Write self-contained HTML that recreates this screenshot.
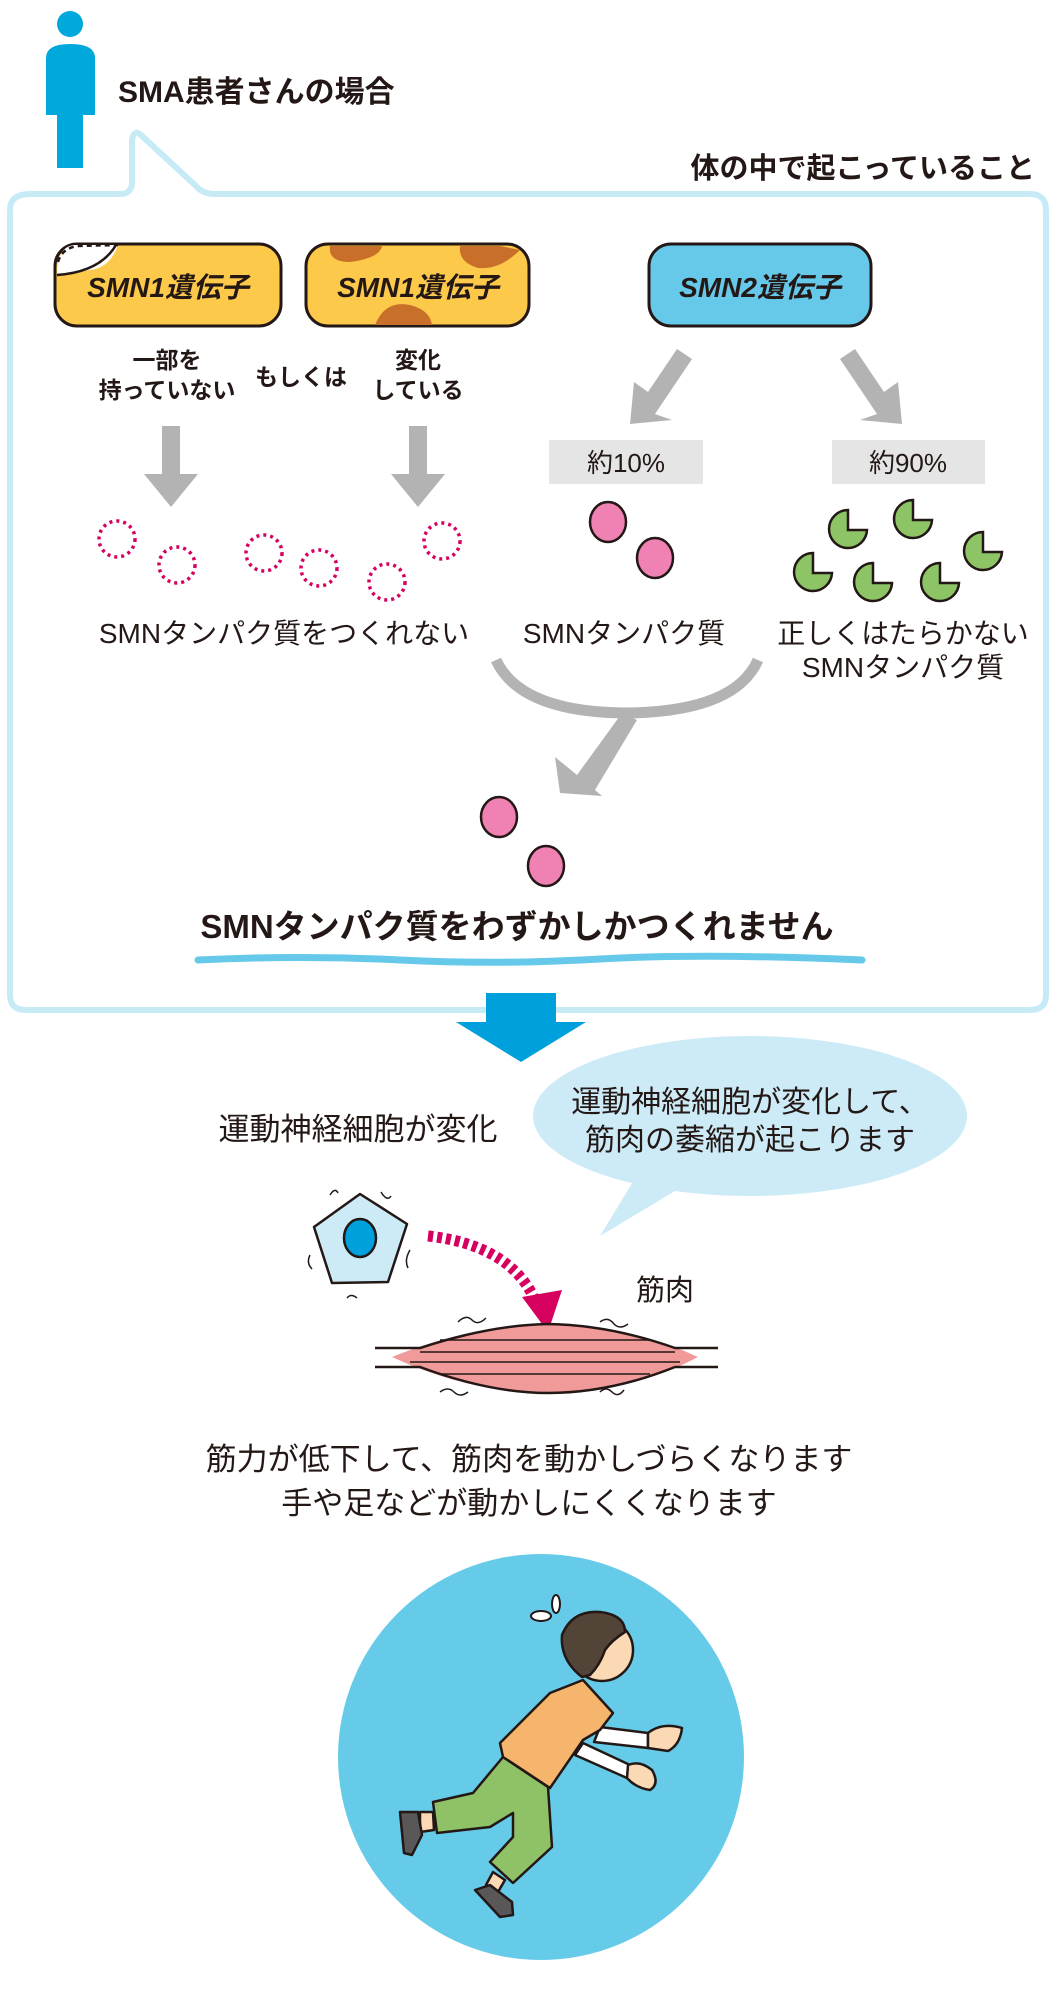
<!DOCTYPE html>
<html><head><meta charset="utf-8"><style>
html,body{margin:0;padding:0;background:#fff}
svg{display:block}
text{font-family:"Liberation Sans","Noto Sans CJK JP",sans-serif;fill:#231815}
.b{font-weight:700}
</style></head><body>
<svg width="1056" height="1996" viewBox="0 0 1056 1996" xmlns="http://www.w3.org/2000/svg">
<!-- person -->
<circle cx="70" cy="24" r="13" fill="#00a8dc"/>
<path d="M46 58 Q46 44 70 44 Q95 44 95 58 L95 115 L83 115 L83 168 L57 168 L57 115 L46 115 Z" fill="#00a8dc"/>
<text x="118" y="102" font-size="30" class="b">SMA患者さんの場合</text>
<text x="1035" y="178" font-size="29" class="b" text-anchor="end">体の中で起こっていること</text>
<!-- frame -->
<path d="M30 194 L120 194 Q132 194 132 182 L132 140 Q134 128 142 136 L196 186 Q203 194 215 194 L1030 194 Q1046 194 1046 210 L1046 995 Q1046 1010 1030 1010 L26 1010 Q10 1010 10 995 L10 210 Q10 194 30 194 Z" fill="none" stroke="#c6ebf7" stroke-width="6" stroke-linejoin="round"/>
<!-- yellow boxes -->
<rect x="55" y="244" width="226" height="82" rx="22" fill="#fcc94a" stroke="#231815" stroke-width="3"/>
<path d="M57 275 Q57 246 75 245 L118 245 Q110 268 90 270 Q70 273 57 275 Z" fill="#fff"/>
<path d="M57 275 Q100 272 116 245" fill="none" stroke="#231815" stroke-width="2.5"/>
<path d="M58 262 Q62 248 78 246 L118 245" fill="none" stroke="#231815" stroke-width="2.5" stroke-dasharray="5,4"/>
<text x="168" y="297" font-size="28" class="b" text-anchor="middle" font-style="italic">SMN1遺伝子</text>
<rect x="306" y="244" width="223" height="82" rx="22" fill="#fcc94a" stroke="#231815" stroke-width="3"/>
<path d="M330 246 Q328 262 350 262 Q380 258 382 246 Z" fill="#c8702a"/>
<path d="M460 246 Q458 262 478 268 Q500 270 520 250 L500 246 Z" fill="#c8702a"/>
<path d="M375 325 Q385 300 410 305 Q430 310 432 325 Z" fill="#c8702a"/>
<text x="418" y="297" font-size="28" class="b" text-anchor="middle" font-style="italic">SMN1遺伝子</text>
<rect x="649" y="244" width="222" height="82" rx="22" fill="#66c9ea" stroke="#231815" stroke-width="3"/>
<text x="760" y="297" font-size="28" class="b" text-anchor="middle" font-style="italic">SMN2遺伝子</text>
<!-- labels -->
<text x="167" y="368" font-size="23" text-anchor="middle" class="b">一部を</text>
<text x="167" y="398" font-size="23" text-anchor="middle" class="b">持っていない</text>
<text x="301" y="385" font-size="23" text-anchor="middle" class="b">もしくは</text>
<text x="418" y="368" font-size="23" text-anchor="middle" class="b">変化</text>
<text x="418" y="398" font-size="23" text-anchor="middle" class="b">している</text>
<!-- gray arrows -->
<g fill="#b3b3b3">
<path d="M162 426 L180 426 L180 474 L198 474 L171 507 L144 474 L162 474 Z"/>
<path d="M409 426 L427 426 L427 474 L445 474 L418 507 L391 474 L409 474 Z"/>
<path d="M677 349 L692 359 L655 414 L672 420 L630 424 L634 382 L648 392 Z"/>
<path d="M840 359 L855 349 L884 392 L898 382 L902 424 L860 420 L877 414 Z"/>
</g>
<rect x="549" y="440" width="154" height="44" fill="#e5e5e5"/>
<text x="626" y="472" font-size="26" text-anchor="middle">約10%</text>
<rect x="832" y="440" width="153" height="44" fill="#e5e5e5"/>
<text x="908" y="472" font-size="26" text-anchor="middle">約90%</text>
<!-- dashed circles -->
<g fill="none" stroke="#d6005f" stroke-width="3.5" stroke-dasharray="3,4">
<circle cx="117" cy="539" r="18"/><circle cx="177" cy="565" r="18"/><circle cx="264" cy="553" r="18"/>
<circle cx="319" cy="568" r="18"/><circle cx="387" cy="582" r="18"/><circle cx="442" cy="541" r="18"/>
</g>
<g fill="#f082b3" stroke="#231815" stroke-width="2.5">
<ellipse cx="608" cy="522" rx="18" ry="20"/><ellipse cx="655" cy="558" rx="18" ry="20"/>
<ellipse cx="499" cy="817" rx="18" ry="20"/><ellipse cx="546" cy="866" rx="18" ry="20"/>
</g>
<!-- green pacs -->
<g fill="#8cc466" stroke="#231815" stroke-width="2.5">
<path d="M848 530 L848 510 A19 19 0 1 0 867 530 Z"/>
<path d="M913 520 L913 500 A19 19 0 1 0 932 520 Z"/>
<path d="M983 552 L983 532 A19 19 0 1 0 1002 552 Z"/>
<path d="M813 573 L813 553 A19 19 0 1 0 832 573 Z"/>
<path d="M873 583 L873 563 A19 19 0 1 0 892 583 Z"/>
<path d="M940 583 L940 563 A19 19 0 1 0 959 583 Z"/>
</g>
<g font-size="28">
<text x="284" y="643" text-anchor="middle">SMNタンパク質をつくれない</text>
<text x="624" y="643" text-anchor="middle">SMNタンパク質</text>
<text x="903" y="643" text-anchor="middle">正しくはたらかない</text>
<text x="903" y="677" text-anchor="middle">SMNタンパク質</text>
</g>
<!-- curve + arrow -->
<path d="M496 660 Q520 712 626 713 Q735 712 758 660" fill="none" stroke="#b3b3b3" stroke-width="11"/>
<path d="M622 713 L637 720 L595 790 L602 796 L560 793 L555 757 L577 775 Z" fill="#b3b3b3"/>
<text x="517" y="938" font-size="33" class="b" text-anchor="middle">SMNタンパク質をわずかしかつくれません</text>
<path d="M198 960 Q300 955 400 960 T600 959 T862 960" fill="none" stroke="#66c9ea" stroke-width="7" stroke-linecap="round"/>
<!-- blue arrow -->
<path d="M486 993 L556 993 L556 1022 L586 1022 L521 1062 L456 1022 L486 1022 Z" fill="#00a0dc"/>
<text x="358" y="1140" font-size="31" text-anchor="middle">運動神経細胞が変化</text>
<ellipse cx="750" cy="1116" rx="217" ry="80" fill="#cdebf7"/>
<path d="M640 1170 L600 1236 L680 1188 Z" fill="#cdebf7"/>
<text x="750" y="1112" font-size="30" text-anchor="middle">運動神経細胞が変化して、</text>
<text x="750" y="1150" font-size="30" text-anchor="middle">筋肉の萎縮が起こります</text>
<!-- neuron -->
<path d="M360 1194 L407 1224 L388 1282 L332 1283 L314 1227 Z" fill="#cdebf7" stroke="#231815" stroke-width="2.5" stroke-linejoin="round"/>
<ellipse cx="360" cy="1238" rx="16" ry="19" fill="#00a0dc" stroke="#231815" stroke-width="2.5"/>
<g fill="none" stroke="#231815" stroke-width="1.5">
<path d="M330 1195 q5 -8 8 -2 M381 1192 q6 10 10 4 M310 1255 q-4 8 2 14 M410 1250 q-6 10 -2 18 M347 1298 q4 -5 10 0"/>
<path d="M458 1322 q8 -8 14 -2 q6 6 14 -2 M600 1322 q8 -6 14 2 q6 6 14 0 M440 1392 q8 -6 14 0 q6 6 14 0 M600 1392 q6 -6 12 0 q6 6 12 -2"/>
</g>
<!-- dashed pink arrow -->
<path d="M428 1236 Q510 1245 535 1300" fill="none" stroke="#d6005f" stroke-width="11" stroke-dasharray="5,4"/>
<path d="M522 1297 L562 1290 L548 1332 Z" fill="#d6005f"/>
<text x="665" y="1300" font-size="29" text-anchor="middle">筋肉</text>
<!-- muscle -->
<path d="M392 1357 Q470 1325 548 1324 Q630 1325 698 1357 Q630 1393 548 1393 Q470 1393 392 1357 Z" fill="#f09a9a"/>
<g stroke="#231815" stroke-width="2.5" fill="none">
<path d="M375 1348 L420 1348 Q490 1325 548 1324 Q610 1325 675 1348 L718 1348"/>
<path d="M375 1367 L420 1367 Q490 1393 548 1393 Q610 1393 675 1367 L718 1367"/>
<path d="M420 1352 L675 1352 M410 1362 L680 1362 M440 1374 L650 1374 M440 1340 L650 1340" stroke-width="1.5"/>
</g>
<text x="529" y="1470" font-size="31" text-anchor="middle">筋力が低下して、筋肉を動かしづらくなります</text>
<text x="529" y="1514" font-size="31" text-anchor="middle">手や足などが動かしにくくなります</text>
<!-- circle -->
<circle cx="541" cy="1757" r="203" fill="#66cbe9"/>
<g stroke="#231815" stroke-width="2.5" stroke-linejoin="round">
<path d="M503 1757 L473 1793 L433 1802 L437 1833 L490 1827 L513 1813 L513 1837 L490 1862 L513 1883 L552 1847 L548 1787 Z" fill="#8fc166"/>
<path d="M420 1812 L433 1812 L434 1830 L420 1832 Z" fill="#fbd9b5"/>
<path d="M400 1812 L418 1812 L422 1835 L412 1855 L404 1853 Z" fill="#595757"/>
<path d="M493 1872 L505 1880 L498 1892 L486 1885 Z" fill="#fbd9b5"/>
<path d="M475 1890 L490 1885 L512 1902 L513 1915 L500 1917 Z" fill="#595757"/>
<path d="M583 1743 L630 1765 L627 1778 L575 1755 Z" fill="#fff"/>
<path d="M600 1727 L648 1733 L648 1748 L594 1742 Z" fill="#fff"/>
<path d="M628 1765 Q640 1760 652 1770 Q660 1784 650 1790 Q636 1788 627 1778 Z" fill="#fbd9b5"/>
<path d="M648 1733 Q662 1722 682 1728 Q680 1745 668 1751 L648 1748 Z" fill="#fbd9b5"/>
<path d="M500 1743 L550 1693 L583 1680 L613 1713 L600 1730 L583 1740 L550 1788 L503 1757 Z" fill="#f5b56d"/>
<circle cx="602" cy="1650" r="31" fill="#fbd9b5"/>
<path d="M582 1677 Q560 1660 562 1635 Q572 1610 600 1612 Q625 1615 625 1632 Q612 1640 605 1650 Q600 1665 590 1675 Z" fill="#534438"/>
</g>
<g fill="#fff" stroke="#231815" stroke-width="2">
<ellipse cx="541" cy="1616" rx="10" ry="5"/><ellipse cx="556" cy="1604" rx="4" ry="9"/>
</g>
</svg>
</body></html>
